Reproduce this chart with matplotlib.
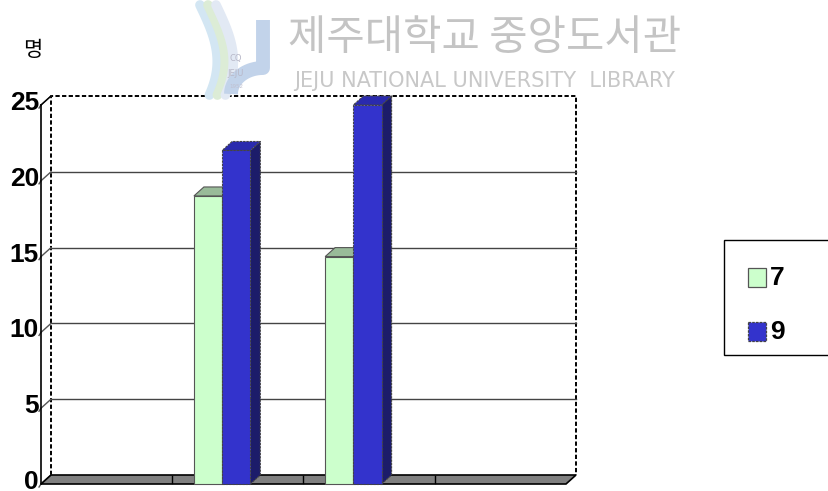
import matplotlib
matplotlib.use("Agg")
import matplotlib.pyplot as plt
from matplotlib.patches import Rectangle, Polygon
import numpy as np

# ---------------- data ----------------
categories = [1, 2, 3, 4]
series_names = ["7", "9"]
values_7 = [0, 19, 15, 0]
values_9 = [0, 22, 25, 0]
y_ticks = [0, 5, 10, 15, 20, 25]
unit_label = "명"
watermark_kr = "제주대학교 중앙도서관"
watermark_en = "JEJU NATIONAL UNIVERSITY  LIBRARY"

# ---------------- style ----------------
W, H = 829, 491
fig = plt.figure(figsize=(W / 100, H / 100), dpi=100)
fig.patch.set_facecolor("white")

L, R, B, T = 41, 566, 484, 105  # pixel frame of front plane
ax = fig.add_axes([L / W, 1 - B / H, (R - L) / W, (B - T) / H])
ax.set_xlim(0, len(categories))
ax.set_ylim(0, 25)
ax.axis("off")

px_x = (R - L) / len(categories)
px_y = (B - T) / 25
DX = 10 / px_x
DY = 9 / px_y
NC = len(categories)
YMAX = max(y_ticks)

face_cols = ["#CCFFCC", "#3333CC"]
top_cols = ["#99BB99", "#2A2AAE"]
side_cols = ["#7E9E7E", "#1C1C6A"]
edge_cols = ["#555555", "#444444"]
edge_ls = ["-", (0, (2, 1))]

kw = dict(clip_on=False)
dash = (0, (2.2, 1.2))

# back wall
ax.add_patch(Rectangle((DX, DY), NC, YMAX, facecolor="white", edgecolor="none", zorder=0, **kw))
ax.plot([DX, DX, NC + DX, NC + DX], [DY, YMAX + DY, YMAX + DY, DY], color="black",
        lw=1.4, ls=dash, zorder=1, **kw)
# gridlines
for v in y_ticks[1:-1]:
    ax.plot([DX, NC + DX], [v + DY, v + DY], color="#444444", lw=1.0, zorder=1, **kw)
for v in y_ticks:
    ax.plot([0, DX], [v, v + DY], color="#555555", lw=1.0, zorder=1, **kw)
    ax.plot([-0.015, 0], [v - 0.2, v], color="#555555", lw=1.0, zorder=1, **kw)
# left axis
ax.plot([0, 0], [0, YMAX], color="black", lw=1.2, zorder=2, **kw)
ax.plot([0, DX], [YMAX, YMAX + DY], color="black", lw=1.0, zorder=2, **kw)

# floor
ax.add_patch(Polygon([(0, 0), (NC, 0), (NC + DX, DY), (DX, DY)], closed=True,
                     facecolor="#808080", edgecolor="black", lw=1.2, zorder=2, **kw))
for b in range(1, NC):
    ax.plot([b, b], [0.05, DY - 0.05], color="black", lw=1.0, zorder=2, **kw)

# y tick labels
for v in y_ticks:
    ax.annotate(str(v), (0, v), xytext=(-1.5, 1.5), textcoords="offset points",
                ha="right", va="center", fontsize=19, fontweight="bold",
                family="Liberation Sans", color="black", annotation_clip=False)

# bars
start, bw = 0.165, 0.215
series = [values_7, values_9]
for i, c in enumerate(categories):
    for j, vals in enumerate(series):
        h = vals[i]
        if h <= 0:
            continue
        x0 = i + start + j * bw
        z = 3 + j
        ax.add_patch(Polygon([(x0 + bw, 0), (x0 + bw + DX, DY), (x0 + bw + DX, h + DY), (x0 + bw, h)],
                             closed=True, facecolor=side_cols[j], edgecolor=edge_cols[j],
                             lw=0.8, ls=edge_ls[j], zorder=z, **kw))
        ax.add_patch(Polygon([(x0, h), (x0 + bw, h), (x0 + bw + DX, h + DY), (x0 + DX, h + DY)],
                             closed=True, facecolor=top_cols[j], edgecolor=edge_cols[j],
                             lw=0.8, ls=edge_ls[j], zorder=z, **kw))
        ax.add_patch(Rectangle((x0, 0), bw, h, facecolor=face_cols[j], edgecolor=edge_cols[j],
                               lw=0.8, ls=edge_ls[j], zorder=z, **kw))

# ---------------- overlay (legend, watermark, labels) ----------------
ov = fig.add_axes([0, 0, 1, 1], zorder=5)
ov.set_xlim(0, W)
ov.set_ylim(H, 0)
ov.axis("off")

# legend
ov.add_patch(Rectangle((724, 240), 130, 115, facecolor="white", edgecolor="black", lw=1.0, clip_on=False))
for j, name in enumerate(series_names):
    yy = 268 + j * 54
    ov.add_patch(Rectangle((748, yy), 18, 19, facecolor=face_cols[j], edgecolor=edge_cols[j],
                           lw=0.9, ls=edge_ls[j]))
    ov.text(770, yy + 10, name, fontsize=19, fontweight="bold", family="Liberation Sans",
            ha="left", va="center")

# unit label
ov.text(33, 50, unit_label, fontsize=15, family=["Noto Sans CJK KR", "DejaVu Sans"],
        ha="center", va="center", color="black")

# watermark logo
t = np.linspace(0, 1, 50)
for k, (col, off) in enumerate([("#d3e6f3", 0), ("#dcecd6", 8), ("#e2e9f4", 16)]):
    xs = 200 + off + 24 * np.sin(t * 2.2) - 10 * t
    ys = 5 + 90 * t
    ov.plot(xs, ys, color=col, lw=7, solid_capstyle="round")
jx = np.concatenate([np.full(20, 263.0), 263 - 32 * np.sin(np.linspace(0, np.pi / 2, 20))])
jy = np.concatenate([np.linspace(20, 68, 20), 68 + 26 * (1 - np.cos(np.linspace(0, np.pi / 2, 20)))])
ov.plot(jx, jy, color="#c2d3ea", lw=10, solid_capstyle="butt")
ov.text(236, 58, "CQ", fontsize=6, color="#b8b8c8", ha="center", va="center")
ov.text(236, 73, "JEJU", fontsize=6, color="#b8b8c8", ha="center", va="center")
ov.text(236, 86, "1952", fontsize=4, color="#c0c0d0", ha="center", va="center")

ov.text(485, 38, watermark_kr, fontsize=30, family=["Noto Sans CJK KR", "DejaVu Sans"],
        color="#c4c4c4", ha="center", va="center")
ov.text(485, 81, watermark_en, fontsize=15, family="DejaVu Sans", color="#c8c8c8",
        ha="center", va="center")

fig.savefig("out.png", dpi=100)
